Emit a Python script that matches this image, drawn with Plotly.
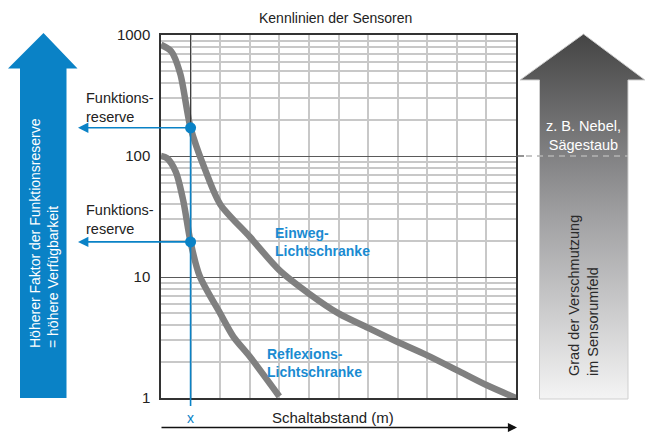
import math
import plotly.graph_objects as go

# ---- data ----
einweg_x = [0, 0.35, 0.65, 1.0, 1.5, 2.0, 3.0, 4.0, 5.0, 6.0, 7.0, 8.0, 9.0, 10.0, 11.0, 12.0]
einweg_y = [830, 730, 480, 171, 76, 40, 21.5, 11.4, 7.3, 5.0, 3.8, 2.9, 2.25, 1.7, 1.28, 1.0]
reflex_x = [0, 0.2, 0.5, 0.75, 1.0, 1.3, 2.0, 2.45, 3.0, 4.0]
reflex_y = [100, 96, 74, 43, 19.5, 10.3, 5.0, 3.2, 2.2, 1.03]
op_x = 1.0
op_einweg = 171
op_reflex = 19.5
y_ticks = [1, 10, 100, 1000]
y_tick_text = ["1", "10", "100", "1000"]
y_minor = [m * d for d in (1, 10, 100) for m in range(2, 10)]

W, H = 645, 432
FONT = "Liberation Sans, Arial, sans-serif"
BLUE = "#0a82c6"
BLUE_T = "#1a8bd1"
GRAY = "#808080"

def px(x):
    return x / W

def py(y):
    return 1 - y / H

fig = go.Figure()

# curves
fig.add_trace(go.Scatter(x=einweg_x, y=einweg_y, mode="lines",
                         line=dict(color=GRAY, width=6.5, shape="spline", smoothing=0.8),
                         hoverinfo="skip", showlegend=False))
fig.add_trace(go.Scatter(x=reflex_x, y=reflex_y, mode="lines",
                         line=dict(color=GRAY, width=6.5, shape="spline", smoothing=0.8),
                         hoverinfo="skip", showlegend=False))

# operating point vertical line
fig.add_trace(go.Scatter(x=[op_x, op_x], y=[1000, op_einweg], mode="lines",
                         line=dict(color="#333333", width=1), hoverinfo="skip", showlegend=False))
fig.add_trace(go.Scatter(x=[op_x, op_x], y=[op_einweg, 1], mode="lines",
                         line=dict(color=BLUE, width=1.6), hoverinfo="skip", showlegend=False))
fig.add_trace(go.Scatter(x=[op_x, op_x], y=[op_einweg, op_reflex], mode="markers",
                         marker=dict(color=BLUE, size=11), cliponaxis=False,
                         hoverinfo="skip", showlegend=False))

# decorative arrows on a full-paper pixel subplot
left_arrow_x = [20, 20, 8, 43.5, 77.5, 66.5, 66.5, 20]
left_arrow_y = [398, 68.5, 68.5, 33, 68.5, 68.5, 398, 398]
fig.add_trace(go.Scatter(x=left_arrow_x, y=[H - v for v in left_arrow_y], xaxis="x2", yaxis="y2",
                         mode="lines", fill="toself", fillcolor=BLUE, line=dict(color=BLUE, width=0),
                         hoverinfo="skip", showlegend=False))
right_arrow_x = [539.5, 539.5, 520, 583.5, 645, 628, 628, 539.5]
right_arrow_y = [399, 80, 80, 34, 80, 80, 399, 399]
fig.add_trace(go.Scatter(x=right_arrow_x, y=[H - v for v in right_arrow_y], xaxis="x2", yaxis="y2",
                         mode="lines", fill="toself",
                         fillgradient=dict(type="vertical",
                                           colorscale=[[0, "#f4f4f4"], [0.5, "#a0a0a2"], [1, "#444444"]]),
                         line=dict(color="#cfcfcf", width=1),
                         hoverinfo="skip", showlegend=False))

fig.update_layout(
    width=W, height=H,
    margin=dict(l=0, r=0, t=0, b=0, pad=0, autoexpand=False),
    paper_bgcolor="white", plot_bgcolor="rgba(0,0,0,0)",
    font=dict(family=FONT, color="#222222"),
    xaxis=dict(domain=[px(161), px(516)], range=[0, 12], dtick=1, tick0=0,
               showgrid=True, gridcolor="#c8c8c8", gridwidth=1.5,
               showticklabels=False, zeroline=False, automargin=False,
               showline=True, linecolor="#333333", linewidth=1.5, mirror=True, ticks=""),
    yaxis=dict(domain=[1 - 398 / H, 1 - 35 / H], type="log", range=[0, 3],
               tickvals=y_ticks, ticktext=y_tick_text, ticks="", automargin=False,
               tickfont=dict(size=15, color="#222222"), ticklabelstandoff=6,
               showgrid=True, gridcolor="#5a5a5a", gridwidth=1.3, zeroline=False,
               showline=True, linecolor="#333333", linewidth=1.5, mirror=True,
               minor=dict(tickvals=y_minor, showgrid=True, gridcolor="#c8c8c8", gridwidth=1.5, ticks="")),
    xaxis2=dict(domain=[0, 1], range=[0, W], anchor="y2", visible=False, fixedrange=True, automargin=False),
    yaxis2=dict(domain=[0, 1], range=[0, H], anchor="x2", visible=False, fixedrange=True, automargin=False),
    showlegend=False,
)

shapes = []
shapes.append(dict(type="line", xref="paper", yref="y", x0=px(516), x1=px(524), y0=100, y1=100,
                   line=dict(color="#5a5a5a", width=1.3), layer="above"))
shapes.append(dict(type="line", xref="paper", yref="y", x0=px(526), x1=px(628), y0=100, y1=100,
                   line=dict(color="#b4b4b4", width=1.5, dash="6px,5px"), layer="above"))
shapes.append(dict(type="line", xref="x", yref="paper", x0=op_x, x1=op_x, y0=py(406), y1=py(398),
                   line=dict(color=BLUE, width=1.6), layer="above"))
fig.update_layout(shapes=shapes)


def label(text, x, y, size, color, xanchor="center", align="center", angle=0, xref="paper"):
    return dict(text=text, x=x, y=y, xref=xref, yref="paper", xanchor=xanchor, yanchor="middle",
                align=align, textangle=angle, showarrow=False, font=dict(size=size, color=color))


ann = []
ann.append(label("Kennlinien der Sensoren", px(335), py(18), 14, "#222222"))
ann.append(label("Schaltabstand (m)", px(333), py(417), 15, "#222222"))
ann.append(label("x", op_x, py(418), 14, BLUE, xref="x"))
ann.append(dict(text="", x=px(517), y=py(427.5), xref="paper", yref="paper",
                ax=-357, ay=0, axref="pixel", ayref="pixel", showarrow=True,
                arrowhead=2, arrowsize=1.3, arrowwidth=1.4, arrowcolor="#111111"))
for yv in (op_einweg, op_reflex):
    ann.append(dict(text="", x=px(78), y=math.log10(yv), xref="paper", yref="y",
                    ax=112, ay=0, axref="pixel", ayref="pixel", showarrow=True,
                    arrowhead=2, arrowsize=1.3, arrowwidth=1.6, arrowcolor=BLUE))
ann.append(label("Funktions-<br>reserve", px(84), py(107.5), 14.5, "#222222", xanchor="left", align="left"))
ann.append(label("Funktions-<br>reserve", px(84), py(219), 14.5, "#222222", xanchor="left", align="left"))
ann.append(label("<b>Einweg-<br>Lichtschranke</b>", px(273), py(242), 14, BLUE_T, xanchor="left", align="left"))
ann.append(label("<b>Reflexions-<br>Lichtschranke</b>", px(265), py(362.5), 14, BLUE_T, xanchor="left", align="left"))
ann.append(label("Höherer Faktor der Funktionsreserve<br>= höhere Verfügbarkeit", px(44), py(233), 14,
                 "white", align="left", angle=-90))
ann.append(label("z. B. Nebel,<br>Sägestaub", px(583), py(135), 14.5, "white"))
ann.append(label("Grad der Verschmutzung<br>im Sensorumfeld", px(583), py(296), 14.5, "#2a2a2a",
                 align="left", angle=-90))
fig.update_layout(annotations=ann)

fig.write_html("out.html", config={"displayModeBar": False},
               post_script="document.body.style.margin='0';document.body.style.overflow='hidden';")
